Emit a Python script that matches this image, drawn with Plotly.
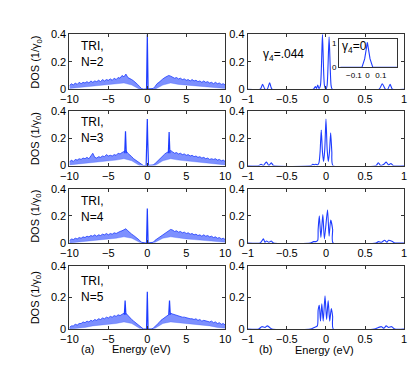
import plotly.graph_objects as go

# ---- données ----
# panneaux (a) : enveloppe haute (pas 0.25 eV) et basse (pas 1 eV) du bruit
E_HAUT = [-10 + 0.25 * i for i in range(81)]
E_BAS = list(range(-10, 11))

HAUT_N2 = [0.025, 0.04, 0.03, 0.045, 0.035, 0.05, 0.04, 0.05, 0.045,
           0.055, 0.045, 0.06, 0.05, 0.06, 0.055, 0.065, 0.055,
           0.07, 0.06, 0.07, 0.065, 0.075, 0.065, 0.08, 0.07,
           0.085, 0.08, 0.1, 0.09, 0.11, 0.085, 0.08, 0.07,
           0.06, 0.05, 0.035, 0.02, 0.005, 0, 0, 0,
           0, 0, 0.005, 0.02, 0.04, 0.05, 0.065, 0.075,
           0.085, 0.09, 0.1, 0.095, 0.09, 0.08, 0.085, 0.075,
           0.08, 0.07, 0.075, 0.065, 0.07, 0.06, 0.07, 0.06,
           0.065, 0.055, 0.06, 0.05, 0.06, 0.05, 0.055, 0.045,
           0.05, 0.04, 0.05, 0.04, 0.045, 0.035, 0.04, 0.03]
BAS_N2 = [0.005, 0.01, 0.015, 0.02, 0.025, 0.03, 0.035, 0.045, 0.03, 0, 0,
          0, 0.03, 0.045, 0.035, 0.03, 0.025, 0.02, 0.015, 0.01, 0.005]

HAUT_N3 = [0.025, 0.04, 0.03, 0.045, 0.04, 0.05, 0.045, 0.055, 0.05,
           0.06, 0.05, 0.07, 0.09, 0.06, 0.055, 0.065, 0.06,
           0.07, 0.065, 0.08, 0.07, 0.075, 0.07, 0.08, 0.075,
           0.09, 0.085, 0.095, 0.1, 0.11, 0.09, 0.08, 0.065,
           0.05, 0.04, 0.03, 0.015, 0.005, 0, 0, 0,
           0, 0, 0.005, 0.015, 0.03, 0.045, 0.06, 0.075,
           0.085, 0.095, 0.1, 0.11, 0.1, 0.09, 0.095, 0.085,
           0.09, 0.08, 0.085, 0.075, 0.08, 0.07, 0.075, 0.065,
           0.07, 0.06, 0.065, 0.055, 0.06, 0.05, 0.055, 0.045,
           0.05, 0.045, 0.05, 0.04, 0.045, 0.035, 0.04, 0.03]
BAS_N3 = [0.005, 0.01, 0.02, 0.025, 0.03, 0.035, 0.04, 0.05, 0.035, 0, 0,
          0, 0.035, 0.05, 0.04, 0.035, 0.03, 0.025, 0.02, 0.01, 0.005]

HAUT_N4 = [0.015, 0.03, 0.025, 0.035, 0.03, 0.04, 0.035, 0.045, 0.04,
           0.05, 0.045, 0.055, 0.05, 0.06, 0.05, 0.06, 0.055,
           0.065, 0.06, 0.07, 0.06, 0.07, 0.065, 0.075, 0.07,
           0.08, 0.085, 0.09, 0.1, 0.105, 0.09, 0.075, 0.065,
           0.055, 0.045, 0.03, 0.02, 0.005, 0, 0, 0,
           0, 0, 0.005, 0.02, 0.03, 0.045, 0.055, 0.065,
           0.075, 0.085, 0.09, 0.1, 0.095, 0.085, 0.09, 0.08,
           0.085, 0.075, 0.08, 0.07, 0.075, 0.065, 0.07, 0.06,
           0.065, 0.055, 0.06, 0.05, 0.06, 0.05, 0.055, 0.045,
           0.05, 0.04, 0.045, 0.035, 0.04, 0.03, 0.035, 0.025]
BAS_N4 = [0, 0.005, 0.015, 0.02, 0.025, 0.03, 0.035, 0.045, 0.035, 0.005, 0,
          0.005, 0.035, 0.045, 0.035, 0.03, 0.025, 0.02, 0.015, 0.01, 0.005]

HAUT_N5 = [0.01, 0.02, 0.02, 0.03, 0.025, 0.035, 0.035, 0.045, 0.04,
           0.05, 0.045, 0.055, 0.05, 0.06, 0.055, 0.065, 0.06,
           0.07, 0.065, 0.075, 0.07, 0.08, 0.075, 0.085, 0.08,
           0.09, 0.085, 0.095, 0.1, 0.1, 0.085, 0.07, 0.06,
           0.05, 0.04, 0.025, 0.015, 0.005, 0, 0, 0,
           0, 0, 0.005, 0.015, 0.03, 0.04, 0.055, 0.065,
           0.075, 0.085, 0.09, 0.1, 0.095, 0.09, 0.085, 0.08,
           0.08, 0.075, 0.075, 0.07, 0.07, 0.065, 0.065, 0.06,
           0.065, 0.055, 0.06, 0.05, 0.055, 0.05, 0.05, 0.045,
           0.05, 0.04, 0.045, 0.035, 0.04, 0.03, 0.035, 0.025]
BAS_N5 = [0, 0.005, 0.01, 0.02, 0.025, 0.03, 0.035, 0.045, 0.035, 0.005, 0,
          0.005, 0.035, 0.045, 0.04, 0.035, 0.03, 0.025, 0.02, 0.01, 0.005]

# pics fins (None = coupure)
PIC_X_N2 = [-0.1, 0, 0.1]
PIC_Y_N2 = [0, 0.4, 0]
PIC_X_N3 = [-2.9, -2.8, -2.7, None, -0.15, -0.05, -0.02, 0, 0.05, 0.15, None, 2.7, 2.8, 2.9]
PIC_Y_N3 = [0.09, 0.25, 0.09, None, 0, 0.26, 0.1, 0.34, 0.2, 0, None, 0.09, 0.245, 0.09]
PIC_X_N4 = [-0.1, 0, 0.1]
PIC_Y_N4 = [0, 0.255, 0]
PIC_X_N5 = [-2.95, -2.85, -2.75, None, -0.1, 0, 0.1, None, 2.75, 2.85, 2.95]
PIC_Y_N5 = [0.09, 0.18, 0.09, None, 0, 0.235, 0, None, 0.09, 0.18, 0.09]

# panneaux (b) : zoom autour de E = 0
ZX_N2 = [-1, -0.84, -0.81, -0.78, -0.75, -0.72, -0.69, -0.16, -0.134, -0.12, -0.105,
         -0.09, -0.07, -0.045, -0.02, 0, 0.015, 0.04, 0.065, 0.08,
         0.68, 0.72, 0.76, 0.79, 0.82, 0.85, 1]
ZY_N2 = [0, 0, 0.035, 0, 0, 0.047, 0, 0, 0.02, 0.005, 0.03,
         0.005, 0.03, 0.4, 0.03, 0.0, 0.03, 0.38, 0.03, 0,
         0, 0.04, 0, 0, 0.035, 0, 0]
ZX_N3 = [-1, -0.86, -0.83, -0.8, -0.78, -0.76, -0.73, -0.7, -0.67, -0.19, -0.17,
         -0.15, -0.13, -0.11, -0.09, -0.075, -0.06, -0.045, -0.03, -0.015, 0,
         0.015, 0.03, 0.045, 0.06, 0.075, 0.09, 0.64, 0.67, 0.7, 0.74, 0.77,
         0.8, 0.83, 0.86, 1]
ZY_N3 = [0, 0, 0.01, 0, 0.015, 0.025, 0, 0.02, 0, 0, 0.01,
         0.005, 0.01, 0.005, 0.02, 0.1, 0.26, 0.1, 0.03, 0.12, 0.34,
         0.12, 0.03, 0.1, 0.24, 0.1, 0, 0, 0.02, 0, 0.01, 0.025,
         0.005, 0.015, 0, 0]
ZX_N4 = [-1, -0.84, -0.8, -0.78, -0.76, -0.73, -0.7, -0.67, -0.2, -0.16, -0.13,
         -0.105, -0.1, -0.085, -0.065, -0.04, -0.02, 0.02, 0.04, 0.06, 0.085, 0.09,
         0.64, 0.67, 0.71, 0.75, 0.78, 0.8, 0.85, 0.88, 1]
ZY_N4 = [0, 0, 0.03, 0.005, 0.015, 0.005, 0.015, 0, 0, 0.01, 0.01,
         0.02, 0.1, 0.2, 0.04, 0.21, 0.03, 0.245, 0.05, 0.17, 0.1, 0,
         0, 0.01, 0.005, 0.02, 0.005, 0.02, 0.01, 0, 0]
ZX_N5 = [-1, -0.86, -0.82, -0.78, -0.75, -0.72, -0.69, -0.2, -0.15, -0.11,
         -0.1, -0.085, -0.07, -0.053, -0.035, -0.012, 0.008, 0.028, 0.048, 0.068,
         0.085, 0.094, 0.62, 0.67, 0.71, 0.74, 0.77, 0.8, 0.84, 0.88, 1]
ZY_N5 = [0, 0, 0.015, 0.01, 0.02, 0.01, 0, 0, 0.01, 0.02,
         0.12, 0.15, 0.05, 0.16, 0.05, 0.21, 0.06, 0.18, 0.05, 0.13,
         0.08, 0, 0, 0.01, 0.015, 0.005, 0.02, 0.01, 0.015, 0, 0]

# encart gamma4 = 0
ENC_X = [-0.2, -0.04, -0.02, 0, 0.02, 0.04, 0.22]
ENC_Y = [0, 0, 0.35, 1.05, 0.35, 0, 0]

NOMS = ["N=2", "N=3", "N=4", "N=5"]
HAUTS = [HAUT_N2, HAUT_N3, HAUT_N4, HAUT_N5]
BAS = [BAS_N2, BAS_N3, BAS_N4, BAS_N5]
PICS = [(PIC_X_N2, PIC_Y_N2), (PIC_X_N3, PIC_Y_N3), (PIC_X_N4, PIC_Y_N4), (PIC_X_N5, PIC_Y_N5)]
ZOOMS = [(ZX_N2, ZY_N2), (ZX_N3, ZY_N3), (ZX_N4, ZY_N4), (ZX_N5, ZY_N5)]

# ---- mise en page (pixels de la figure 415x366) ----
W, H = 415, 366
BLEU = "rgb(30,60,255)"
POLICE = "Liberation Sans, Arial, sans-serif"
COL_X = [(62.7, 224.3), (247.7, 410)]
LIGNES = [(29.3, 86), (108.3, 165), (189, 245), (268.5, 334)]


def dom_x(a, b):
    return [a / W, b / W]


def dom_y(haut, bas):
    return [1 - bas / H, 1 - haut / H]


fig = go.Figure()
layout = {}

axe_commun = dict(showline=True, linecolor="#333", linewidth=1, mirror="ticks",
                  ticks="inside", ticklen=3, tickcolor="#333", showgrid=False,
                  zeroline=False, tickfont=dict(family=POLICE, size=11, color="black"))

for r in range(4):
    for c in range(2):
        k = r * 2 + c + 1
        sx = "" if k == 1 else str(k)
        xa = dict(axe_commun, domain=dom_x(*COL_X[c]), anchor="y" + sx)
        ya = dict(axe_commun, domain=dom_y(*LIGNES[r]), anchor="x" + sx,
                  range=[0, 0.4], tickvals=[0, 0.2, 0.4], ticktext=["0", "0.2", "0.4"])
        if c == 0:
            xa.update(range=[-10, 10], tickvals=[-10, -5, 0, 5, 10])
        else:
            xa.update(range=[-1, 1], tickvals=[-1, -0.5, 0, 0.5, 1],
                      ticktext=["\u22121", "\u22120.5", "0", "0.5", "1"])
        layout["xaxis" + sx] = xa
        layout["yaxis" + sx] = ya

        if c == 0:
            fig.add_trace(go.Scatter(x=E_BAS, y=BAS[r], xaxis="x" + sx, yaxis="y" + sx,
                                     mode="lines", line=dict(color="rgba(60,90,255,0.6)", width=0.5),
                                     showlegend=False, hoverinfo="skip"))
            fig.add_trace(go.Scatter(x=E_HAUT, y=HAUTS[r], xaxis="x" + sx, yaxis="y" + sx,
                                     mode="lines", line=dict(color=BLEU, width=0.8),
                                     fill="tonexty", fillcolor="rgba(55,85,255,0.65)",
                                     showlegend=False, hoverinfo="skip"))
            px, py = PICS[r]
            fig.add_trace(go.Scatter(x=px, y=py, xaxis="x" + sx, yaxis="y" + sx,
                                     mode="lines", line=dict(color=BLEU, width=1.2),
                                     showlegend=False, hoverinfo="skip"))
        else:
            zx, zy = ZOOMS[r]
            fig.add_trace(go.Scatter(x=zx, y=zy, xaxis="x" + sx, yaxis="y" + sx,
                                     mode="lines", line=dict(color=BLEU, width=1.1, shape="spline", smoothing=0.6),
                                     showlegend=False, hoverinfo="skip"))

# encart
layout["xaxis9"] = dict(axe_commun, domain=dom_x(342.5, 402.5), anchor="y9", range=[-0.21, 0.22],
                        tickvals=[-0.1, 0, 0.1], ticktext=["\u22120.1", "0", "0.1"], mirror=True,
                        ticks="", tickfont=dict(family=POLICE, size=8, color="black"))
layout["yaxis9"] = dict(axe_commun, domain=dom_y(34, 63.3), anchor="x9", range=[0, 1.2],
                        tickvals=[0, 1], mirror=True, ticks="",
                        tickfont=dict(family=POLICE, size=8, color="black"))
fig.add_trace(go.Scatter(x=ENC_X, y=ENC_Y, xaxis="x9", yaxis="y9", mode="lines",
                         line=dict(color=BLEU, width=1.1), showlegend=False, hoverinfo="skip"))

annotations = []


def texte(t, x, y, taille=12, angle=0, xanchor="center", align="center"):
    annotations.append(dict(text=t, x=x / W, y=1 - y / H, xref="paper", yref="paper",
                            showarrow=False, textangle=angle, xanchor=xanchor, yanchor="middle",
                            align=align, font=dict(family=POLICE, size=taille, color="black")))


centre_tri = [50, 128, 209.5, 292.7]
for r in range(4):
    texte("TRI,<br>" + NOMS[r], 73, centre_tri[r], xanchor="left", align="left")
    texte("DOS (1/\u03b3<sub>0</sub>)", 28, sum(LIGNES[r]) / 2, taille=11, angle=-90)

texte("\u03b3<sub>4</sub>=.044", 285, 51)
texte("\u03b3<sub>4</sub>=0", 358.5, 42)
texte("(a)", 81.5, 355, taille=11)
texte("Energy (eV)", 137, 355, taille=11)
texte("(b)", 266, 355, taille=11)
texte("Energy (eV)", 327, 356, taille=11)

fig.update_layout(**layout)
fig.update_layout(width=W, height=H, margin=dict(l=0, r=0, t=0, b=0),
                  plot_bgcolor="white", paper_bgcolor="white",
                  annotations=annotations, showlegend=False)

# la page a une marge de 8 px par défaut : on la retire
fig.write_html("out.html", config={"displayModeBar": False},
               post_script="document.body.style.margin='0';")
